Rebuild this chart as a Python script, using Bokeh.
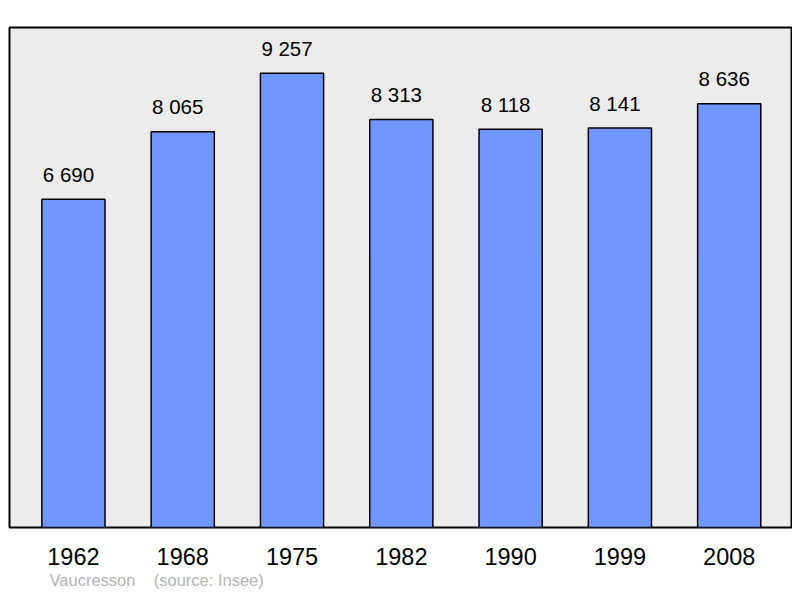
from bokeh.plotting import figure
from bokeh.models import Range1d, FixedTicker, Title, ColumnDataSource
from bokeh.core.properties import value
from bokeh.embed import file_html
from bokeh.resources import INLINE

years = ["1962", "1968", "1975", "1982", "1990", "1999", "2008"]
population = [6690, 8065, 9257, 8313, 8118, 8141, 8636]
labels = ["6 690", "8 065", "9 257", "8 313", "8 118", "8 141", "8 636"]

xs = list(range(len(years)))
src = ColumnDataSource(dict(x=xs, top=population, lab=labels))

p = figure(width=792, height=590, output_backend="svg", toolbar_location=None,
           x_range=Range1d(-0.585, 6.57), y_range=Range1d(0, 10190),
           min_border_left=9, min_border_right=1, min_border_top=27, min_border_bottom=62)

p.background_fill_color = "#ececec"
p.border_fill_color = "white"
p.outline_line_color = "black"
p.outline_line_width = 2
p.grid.visible = False
p.yaxis.visible = False

p.vbar(x="x", top="top", width=0.578, bottom=0, source=src,
       fill_color="#7097ff", line_color="black", line_width=1.5)

p.text(x="x", y="top", text="lab", source=src, text_align="center",
       text_baseline="alphabetic", x_offset=-5, y_offset=-25,
       text_font=value("Liberation Sans"), text_font_size="20.5px", text_color="black")

ax = p.xaxis[0]
ax.ticker = FixedTicker(ticks=xs)
ax.major_label_overrides = {i: y for i, y in enumerate(years)}
ax.axis_line_color = None
ax.major_tick_line_color = None
ax.minor_tick_line_color = None
ax.major_label_text_font = "Liberation Sans"
ax.major_label_text_font_size = "23.5px"
ax.major_label_text_color = "black"
ax.major_label_standoff = 14

src_note = Title(text="Vaucresson\u00a0\u00a0\u00a0\u00a0(source: Insee)", align="left", offset=40,
                 text_font="Liberation Sans", text_font_size="16.5px", text_font_style="normal",
                 text_color="#b5b5b5", standoff=3)
p.add_layout(src_note, "below")

open("out.html", "w").write(file_html(p, INLINE))
